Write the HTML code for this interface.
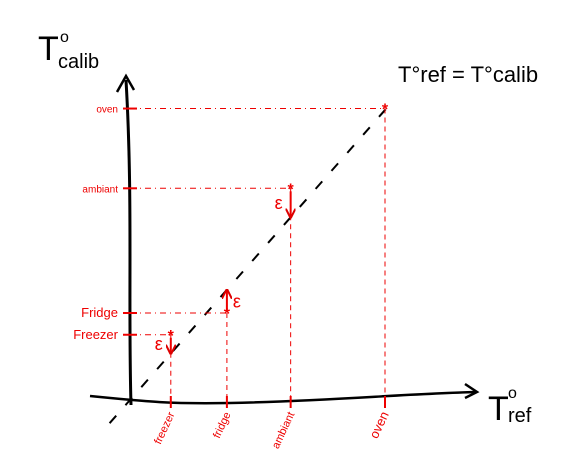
<!DOCTYPE html>
<html><head><meta charset="utf-8"><style>
html,body{margin:0;padding:0;background:#fff;width:572px;height:475px;overflow:hidden}
svg{display:block}
text{font-family:"Liberation Sans",sans-serif}
</style></head><body>
<svg id="chart" width="572" height="475" viewBox="0 0 572 475" xmlns="http://www.w3.org/2000/svg">
<defs>
<marker id="arr" viewBox="0 0 10 10" refX="9" refY="5" markerWidth="5" markerHeight="5" orient="auto-start-reverse"><path d="M0,0 L10,5 L0,10" fill="none" stroke="#d00" stroke-width="2"/></marker>
</defs>
<g id="axes">
<path d="M131,405 C128,300 133,200 126,80" stroke="#000" stroke-width="3" fill="none"/>
<path d="M117,92 L126,76 L134,90" stroke="#000" stroke-width="2.5" fill="none"/>
<path d="M90,396 C150,402 170,404 230,403 C330,401 400,394 476,392" stroke="#000" stroke-width="2.5" fill="none"/>
<path d="M465,384 L477,392 L465,398" stroke="#000" stroke-width="2.5" fill="none"/>
<text x="38" y="60" font-size="34">T</text>
<text x="60" y="42" font-size="16">o</text>
<text x="58" y="68" font-size="20">calib</text>
<text x="488" y="420" font-size="34">T</text>
<text x="508" y="398" font-size="16">o</text>
<text x="508" y="422" font-size="20">ref</text>
<text x="398" y="82" font-size="22">T°ref = T°calib</text>
</g>
<g id="marks"></g>
</svg>
<script>
const categories = ["freezer","fridge","ambient","oven"];
const yLabels = ["Freezer","Fridge","ambiant","oven"];
const xLabels = ["freezer","fridge","ambiant","oven"];
const refValues = [1.6, 3.8, 6.3, 10];
const calibValues = [2.25, 3.0, 7.3, 10.05];
const diagRange = [-0.8, 10.1];
function sx(v){return 130 + v*25.5;}
function sy(v){return 400 - v*29;}
const NS="http://www.w3.org/2000/svg";
const g=document.getElementById('marks');
function mk(tag,attrs){const e=document.createElementNS(NS,tag);for(const k in attrs)e.setAttribute(k,attrs[k]);g.appendChild(e);return e;}
const red="#e00";
const diag=mk('line',{x1:sx(diagRange[0]),y1:sy(diagRange[0]),x2:sx(diagRange[1]),y2:sy(diagRange[1]),stroke:'#000','stroke-width':2,'stroke-dasharray':'10 14'});


categories.forEach((c,i)=>{
  const x=sx(refValues[i]), y=sy(calibValues[i]), yt=sy(refValues[i]);
  const h=mk('line',{x1:sx(0),y1:y,x2:x,y2:y,stroke:red,'stroke-width':1,'stroke-dasharray':'6 4 1 4'});
  
  
  const v=mk('line',{x1:x,y1:y,x2:x,y2:sy(0)+3,stroke:red,'stroke-width':1,'stroke-dasharray':'5 4'});
  
  
  const t1=mk('line',{x1:sx(0)-7,y1:y,x2:sx(0)+7,y2:y,stroke:red,'stroke-width':2});
  
  
  const t2=mk('line',{x1:x,y1:sy(0)-4,x2:x,y2:sy(0)+8,stroke:red,'stroke-width':2});
  
  
  const p=mk('text',{x:x,y:y+6,'font-size':16,fill:red,'text-anchor':'middle','font-weight':'bold'});
  p.textContent='*';
  
  
  if(i<3){
    const a=mk('line',{x1:x,y1:y+(yt>y?3:-3),x2:x,y2:yt,stroke:red,'stroke-width':2,'marker-end':'url(#arr)'});
    
    
    const e=mk('text',{x:i===1?x+6:x-16,y:(y+yt)/2+6,'font-size':18,fill:red});
    e.textContent='ε';
    
    
  }
  const yl=mk('text',{x:sx(0)-12,y:y+4,'font-size':i<2?13:10,fill:red,'text-anchor':'end'});
  yl.textContent=yLabels[i];
  
  
  const xl=mk('text',{x:x+4,y:sy(0)+14,'font-size':i===3?13:11,fill:red,'text-anchor':'end',transform:'rotate(-65 '+(x+4)+' '+(sy(0)+14)+')'});
  xl.textContent=xLabels[i];
  
  
});
</script>
</body></html>
